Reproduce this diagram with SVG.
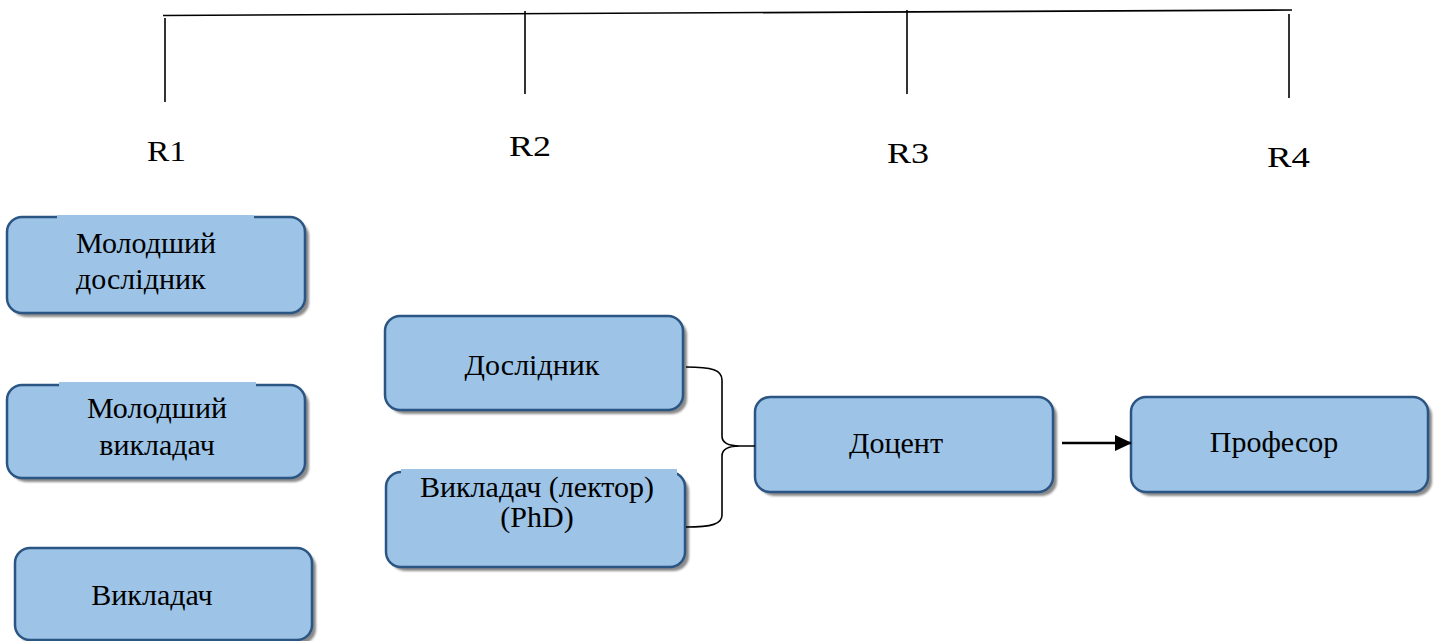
<svg xmlns="http://www.w3.org/2000/svg" width="1437" height="641" viewBox="0 0 1437 641">
<style>
.box{fill:#9DC3E6;stroke:#2B5583;stroke-width:2.5}
.shadow{fill:#8a8a8a}
.cover{fill:#9DC3E6}
.t{font-family:"Liberation Serif","Times New Roman",serif;font-size:30px;fill:#000}
.r{font-family:"Liberation Serif","Times New Roman",serif;font-size:29px;fill:#000}
.ln{stroke:#000;stroke-width:1.6;fill:none}
</style>
<defs>
<filter id="blur" x="-10%" y="-10%" width="120%" height="120%"><feGaussianBlur stdDeviation="1.2"/></filter>
<marker id="arr" markerWidth="17" markerHeight="17" refX="16" refY="8.5" orient="auto" markerUnits="userSpaceOnUse" viewBox="0 0 17 17"><path d="M0,0.5 L17,8.5 L0,16.5 z" fill="#000"/></marker>
</defs>
<rect width="1437" height="641" fill="#fff"/>
<g id="scale">
<line class="ln" x1="163" y1="15.5" x2="1292" y2="10"/>
<line class="ln" x1="165" y1="18" x2="165" y2="102"/>
<line class="ln" x1="525" y1="11" x2="525" y2="94"/>
<line class="ln" x1="907" y1="10" x2="907" y2="94"/>
<line class="ln" x1="1289" y1="14" x2="1289" y2="98"/>
<text class="r" x="147" y="161" textLength="39" lengthAdjust="spacingAndGlyphs">R1</text>
<text class="r" x="509" y="156" textLength="42" lengthAdjust="spacingAndGlyphs">R2</text>
<text class="r" x="887" y="163" textLength="42" lengthAdjust="spacingAndGlyphs">R3</text>
<text class="r" x="1267" y="167" textLength="43" lengthAdjust="spacingAndGlyphs">R4</text>
</g>
<g id="n1">
<rect class="shadow" filter="url(#blur)" x="11" y="221" width="298" height="96" rx="15"/>
<rect class="box" x="7" y="217" width="298" height="96" rx="15"/>
<rect class="cover" x="57" y="215" width="197" height="8"/>
<text class="t" x="76" y="253">Молодший</text>
<text class="t" x="76" y="289">дослідник</text>
</g>
<g id="n2">
<rect class="shadow" filter="url(#blur)" x="11" y="389" width="298" height="93" rx="15"/>
<rect class="box" x="7" y="385" width="298" height="93" rx="15"/>
<rect class="cover" x="59" y="382" width="197" height="8"/>
<text class="t" x="157" y="418" text-anchor="middle">Молодший</text>
<text class="t" x="157" y="455" text-anchor="middle">викладач</text>
</g>
<g id="n3">
<rect class="shadow" filter="url(#blur)" x="19" y="552" width="297" height="92" rx="15"/>
<rect class="box" x="15" y="548" width="297" height="92" rx="15"/>
<text class="t" x="152" y="605" text-anchor="middle">Викладач</text>
</g>
<g id="n4">
<rect class="shadow" filter="url(#blur)" x="389" y="320" width="298" height="94" rx="15"/>
<rect class="box" x="385" y="316" width="298" height="94" rx="15"/>
<text class="t" x="532" y="375" text-anchor="middle">Дослідник</text>
</g>
<g id="n5">
<rect class="shadow" filter="url(#blur)" x="390" y="476" width="299" height="95" rx="15"/>
<rect class="box" x="386" y="472" width="299" height="95" rx="15"/>
<rect class="cover" x="401" y="469" width="276" height="8"/>
<text class="t" x="537" y="497" text-anchor="middle">Викладач (лектор)</text>
<text class="t" x="537" y="527" text-anchor="middle">(PhD)</text>
</g>
<g id="n6">
<rect class="shadow" filter="url(#blur)" x="759" y="401" width="298" height="95" rx="15"/>
<rect class="box" x="755" y="397" width="298" height="95" rx="15"/>
<text class="t" x="896" y="453" text-anchor="middle">Доцент</text>
</g>
<g id="n7">
<rect class="shadow" filter="url(#blur)" x="1135" y="401" width="297" height="95" rx="15"/>
<rect class="box" x="1131" y="397" width="297" height="95" rx="15"/>
<text class="t" x="1274" y="452" text-anchor="middle">Професор</text>
</g>
<g id="connectors">
<path class="ln" d="M686,367 C712,367 722,370 722,380 L722,436 C722,443 728,446 740,446 L755,446 M740,446 C728,446 722,449 722,456 L722,515 C722,524 712,527 686,527"/>
<line x1="1062" y1="443" x2="1131" y2="443" stroke="#000" stroke-width="2.4" marker-end="url(#arr)"/>
</g>
</svg>
